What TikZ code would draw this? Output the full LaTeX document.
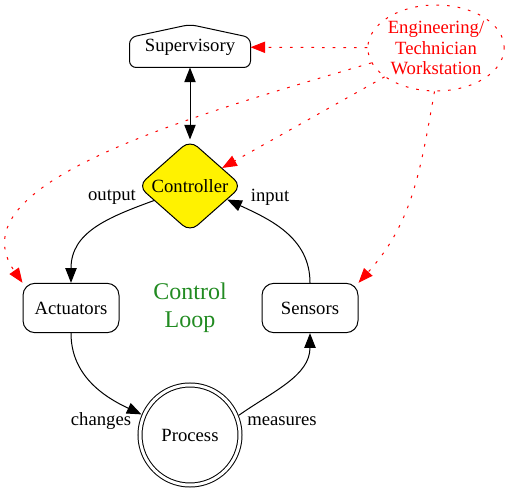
\documentclass[tikz,border=0pt]{standalone}
\usepackage{fontspec}
\setmainfont{Liberation Serif}
\usetikzlibrary{shapes.geometric,arrows.meta,calc}
\definecolor{loopgreen}{RGB}{34,139,34}

\begin{document}
\begin{tikzpicture}[x=0.75pt,y=0.75pt,line width=0.75pt,>={Triangle[length=11pt,width=8.5pt]}]

\tikzstyle{every node}=[font=\fontsize{14}{16.8}\selectfont]
\tikzstyle{unit}=[draw, rounded corners=9pt, minimum width=72pt, minimum height=37pt]
\tikzstyle{remote}=[red, dash pattern=on 2pt off 6pt, ->]

\useasboundingbox (0,0) rectangle (510,496);

\pgfmathsetmacro\xc{190}

% top row
\node[minimum width=90pt, minimum height=30pt, inner sep=0] (supervisory) at (\xc,449) {Supervisory};
\draw[rounded corners=5pt] (supervisory.south) -| ($(supervisory.north west)+(0,-11)$)
  -- ($(supervisory.north)+(0,2)$) -- ($(supervisory.north east)+(0,-11)$) -- (supervisory.south east) -- cycle;

\node[draw, ellipse, red, dash pattern=on 2pt off 6pt, minimum width=102pt, minimum height=64.5pt,
  inner sep=0, align=center, font=\fontsize{14}{15.4}\selectfont] (workstation) at (436,448)
{Engineering/\\Technician\\Workstation};

% loop
\node[draw, diamond, fill=yellow, rounded corners=7.5pt, inner sep=0, minimum width=78pt, minimum height=69pt] (controller) at (\xc,310) {Controller};

\node[unit] (actuators) at (71,188) {Actuators};
\node[unit] (sensors) at (310,188) {Sensors};

\node[draw, circle, double, double distance=2.25pt, minimum size=75pt, inner sep=0, outer sep=2pt] (process) at (\xc,61) {Process};

\node[align=center, text=loopgreen, font=\fontsize{18}{21}\selectfont] (looplabel) at (\xc,188) {Control\\Loop};

\node (output) at (112,299) {output};
\node (input) at (270,299) {input};
\node (changes) at (101,75) {changes};
\node (measures) at (282,75) {measures};

\draw[<->] (supervisory) -- (controller);
\draw[->] (controller.202) to[out=200,in=90,looseness=1.1] (actuators.north);
\draw[->] (sensors.north) to[out=90,in=335] (controller.340);
\draw[->] (actuators.south) to[out=270,in=155] (process.157);
\draw[->] (process.22) to[out=35,in=270] (sensors.south);

% workstation links
\draw[remote] (workstation) -- (supervisory);
\draw[remote] (workstation) -- (controller);
\draw[remote] (workstation.193) .. controls (180,377) and (-45.5,311.5) .. (actuators.north west);
\draw[remote] (workstation.268) to[out=260,in=48] (sensors.north east);

\end{tikzpicture}
\end{document}
